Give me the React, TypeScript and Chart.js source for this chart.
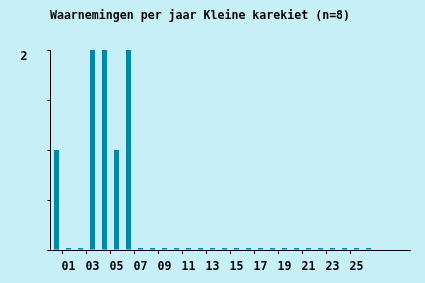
import React, { useEffect, useRef } from "react";
import { Chart, registerables } from "chart.js";

Chart.register(...registerables);

const categories = [
  "00", "01", "02", "03", "04", "05", "06", "07", "08", "09",
  "10", "11", "12", "13", "14", "15", "16", "17", "18", "19",
  "20", "21", "22", "23", "24", "25", "26", "27", "28", "29",
];
const counts: (number | null)[] = [
  1, 0, 0, 2, 2, 1, 2, 0, 0, 0,
  0, 0, 0, 0, 0, 0, 0, 0, 0, 0,
  0, 0, 0, 0, 0, 0, 0, null, null, null,
];
const yTickLabels: Record<number, string> = { 2: "2" };
const titleText = "Waarnemingen per jaar Kleine karekiet (n=8)";

const BG = "#c6eff8";
const BAR = "#0088a8";
const FONT = "'DejaVu Sans Mono', monospace";

const showX = (i: number) => i % 2 === 1 && i <= 25;

export default function App() {
  const ref = useRef<HTMLCanvasElement>(null);
  useEffect(() => {
    document.body.style.margin = "0";
    const bgPlugin = {
      id: "bg",
      beforeDraw(chart: any) {
        const c = chart.ctx;
        c.save();
        c.fillStyle = BG;
        c.fillRect(0, 0, chart.width, chart.height);
        c.fillStyle = "#000";
        c.font = `bold 11.6px ${FONT}`;
        c.textAlign = "center";
        c.textBaseline = "middle";
        c.fillText(titleText, 200, 16);
        c.restore();
      },
    };
    const chart = new Chart(ref.current!, {
      type: "bar",
      data: {
        labels: categories,
        datasets: [
          {
            data: counts as any,
            backgroundColor: BAR,
            barThickness: 5,
            minBarLength: 2,
            inflateAmount: 0,
            borderWidth: 0,
          },
        ],
      },
      options: {
        animation: false,
        responsive: false,
        layout: { padding: { left: 0, right: 14.5, top: 50, bottom: 0 } },
        plugins: {
          legend: { display: false },
          tooltip: { enabled: false },
          title: { display: false },
        },
        scales: {
          x: {
            afterFit: (s: any) => { s.height = 33; },
            grid: {
              drawOnChartArea: false,
              tickLength: 4,
              color: (ctx: any) => (showX(ctx.index) ? "#000" : "rgba(0,0,0,0)"),
            },
            border: { color: "#000", width: 1 },
            ticks: {
              autoSkip: false,
              maxRotation: 0,
              padding: 6,
              color: "#000",
              font: { family: FONT, size: 11.6, weight: "bold" },
              callback: (_v: any, i: number) => (showX(i) ? categories[i] : ""),
            },
          },
          y: {
            min: 0,
            max: 2,
            afterFit: (s: any) => { s.width = 50.5; },
            grid: { drawOnChartArea: false, tickLength: 3, color: "#000" },
            border: { color: "#000", width: 1 },
            ticks: {
              stepSize: 0.5,
              padding: 20,
              labelOffset: 7,
              color: "#000",
              font: { family: FONT, size: 11.6, weight: "bold" },
              callback: (v: any) => yTickLabels[v] ?? "",
            },
          },
        },
      } as any,
      plugins: [bgPlugin],
    });
    return () => chart.destroy();
  }, []);
  return <canvas ref={ref} width={425} height={283} style={{ display: "block" }} />;
}
